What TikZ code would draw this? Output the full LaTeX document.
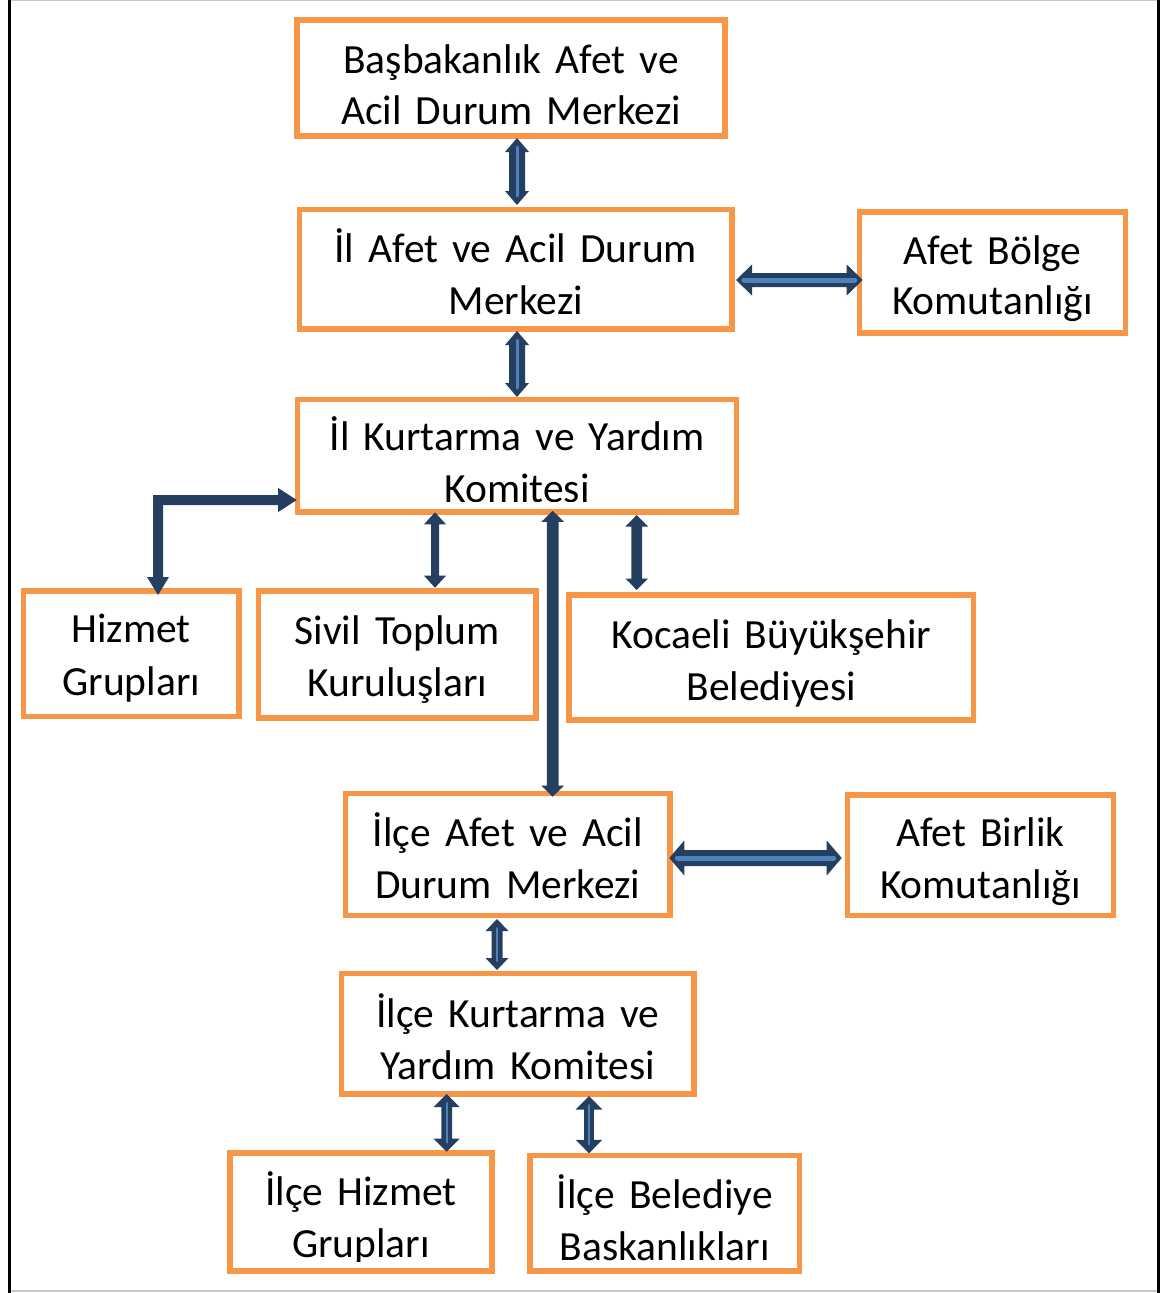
\documentclass[tikz,border=0pt]{standalone}
\usepackage{fontspec}
\setmainfont{Carlito}[WordSpace=1.5]
\usetikzlibrary{calc}

\definecolor{boxorange}{HTML}{F79646}
\definecolor{arrownavy}{HTML}{243F60}
\definecolor{arrowlight}{HTML}{4F81BD}
\definecolor{framegray}{HTML}{C8C8C8}

\tikzset{
  box/.style={draw=boxorange, line width=5.5pt, inner sep=0pt, outer sep=0pt},
  boxtext/.style={anchor=base, inner sep=0pt, outer sep=0pt, font=\fontsize{41.5}{50}\selectfont},
}

% two text lines of a box, cut off a little above its lower edge
\newcommand\boxlines[6]{%
  \begin{scope}
    \clip (#1.north west) rectangle ([yshift=10pt]#1.south east);
    \node[boxtext] (#1-a) at (#2,#3) {#5};
    \node[boxtext] (#1-b) at (#2,#4) {#6};
  \end{scope}}

% vertical double-headed block arrow: #1 upper tip, #2 lower tip,
% #3 shaft half width, #4 head half width, #5 head length, #6 inner stripe width
\newcommand\vbiarrow[6]{%
  \fill[arrownavy] let \p1=#1, \p2=#2 in
    (\x1,\y1) -- (\x1+#4,\y1-#5) -- (\x1+#3,\y1-#5) -- (\x2+#3,\y2+#5) -- (\x2+#4,\y2+#5)
    -- (\x2,\y2) -- (\x2-#4,\y2+#5) -- (\x2-#3,\y2+#5) -- (\x1-#3,\y1-#5) -- (\x1-#4,\y1-#5) -- cycle;
  \ifdim#6>0pt
    \draw[arrowlight, line width=#6, line cap=round] let \p1=#1, \p2=#2 in
      (\x1,\y1-9pt) -- (\x2,\y2+9pt);
  \fi}

% horizontal double-headed block arrow: #1 left tip, #2 right tip
\newcommand\hbiarrow[6]{%
  \fill[arrownavy] let \p1=#1, \p2=#2 in
    (\x1,\y1) -- (\x1+#5,\y1+#4) -- (\x1+#5,\y1+#3) -- (\x2-#5,\y2+#3) -- (\x2-#5,\y2+#4)
    -- (\x2,\y2) -- (\x2-#5,\y2-#4) -- (\x2-#5,\y2-#3) -- (\x1+#5,\y1-#3) -- (\x1+#5,\y1-#4) -- cycle;
  \ifdim#6>0pt
    \draw[arrowlight, line width=#6, line cap=round] let \p1=#1, \p2=#2 in
      (\x1+8pt,\y1) -- (\x2-8pt,\y2);
  \fi}

\begin{document}
\begin{tikzpicture}[x=1pt, y=-1pt]
\useasboundingbox (0,0) rectangle (1172,1293);

% page frame
\draw[framegray, line width=1.2pt] (9.5,0.7) -- (1158.5,0.7);
\draw[framegray, line width=1.5pt] (9.5,1291) -- (1158.5,1291);
\draw[black, line width=2.5pt] (9.5,0) -- (9.5,1293);
\draw[black, line width=2.5pt] (1158.5,0) -- (1158.5,1293);

% boxes
\node[box, minimum width=428pt,   minimum height=116pt]   (bas)      at (511,78)        {};
\node[box, minimum width=432.5pt, minimum height=119.5pt] (ilafet)   at (515.75,269.25) {};
\node[box, minimum width=266pt,   minimum height=121pt]   (bolge)    at (992.5,272.5)   {};
\node[box, minimum width=439pt,   minimum height=112.3pt] (ilkurt)   at (517,455.65)    {};
\node[box, minimum width=215.5pt, minimum height=125.5pt] (hizmet)   at (131.25,653.75) {};
\node[box, minimum width=277.5pt, minimum height=127pt]   (sivil)    at (397.25,654.5)  {};
\node[box, minimum width=404.5pt, minimum height=125pt]   (kocaeli)  at (771.25,657.5)  {};
\node[box, minimum width=324.5pt, minimum height=122pt]   (ilceafet) at (507.75,854.5)  {};
\node[box, minimum width=266pt,   minimum height=120.5pt] (birlik)   at (980.5,855.25)  {};
\node[box, minimum width=352.5pt, minimum height=120.5pt] (ilcekurt) at (517.75,1033.75){};
\node[box, minimum width=262pt,   minimum height=118pt]   (ilcehiz)  at (361,1212)      {};
\node[box, minimum width=269.5pt, minimum height=115.5pt] (ilcebel)  at (664.75,1213.25){};

% box texts
\boxlines{bas}{511}{73}{124}{Başbakanlık Afet ve}{Acil Durum Merkezi}
\boxlines{ilafet}{515.75}{262}{314}{İl Afet ve Acil Durum}{Merkezi}
\boxlines{bolge}{992.5}{264}{314}{Afet Bölge}{Komutanlığı}
\boxlines{ilkurt}{517}{450}{502}{İl Kurtarma ve Yardım}{Komitesi}
\boxlines{hizmet}{131.25}{642}{695}{Hizmet}{Grupları}
\boxlines{sivil}{397.25}{644}{696}{Sivil Toplum}{Kuruluşları}
\boxlines{kocaeli}{771.25}{648}{700}{Kocaeli Büyükşehir}{Belediyesi}
\boxlines{ilceafet}{507.75}{846}{898}{İlçe Afet ve Acil}{Durum Merkezi}
\boxlines{birlik}{980.5}{846}{898}{Afet Birlik}{Komutanlığı}
\boxlines{ilcekurt}{517.75}{1027}{1079}{İlçe Kurtarma ve}{Yardım Komitesi}
\boxlines{ilcehiz}{361}{1205}{1257}{İlçe Hizmet}{Grupları}
\boxlines{ilcebel}{664.75}{1208}{1260}{İlçe Belediye}{Baskanlıkları}

% connectors
\vbiarrow{([xshift=6pt,yshift=-2pt]bas.south)}{([xshift=1.25pt,yshift=4.5pt]ilafet.north)}{8pt}{12pt}{14pt}{3pt}
\vbiarrow{([xshift=1.25pt,yshift=-2pt]ilafet.south)}{([yshift=2.5pt]ilkurt.north)}{8pt}{12pt}{14pt}{3pt}
\hbiarrow{([xshift=4pt,yshift=-10.75pt]ilafet.east)}{([xshift=3.2pt,yshift=-7.5pt]bolge.west)}{7pt}{15.5pt}{16pt}{5pt}

% elbow connector between the committee and the service groups
\fill[arrownavy] let \p1=([xshift=26.75pt,yshift=-4pt]hizmet.north),
                     \p2=([xshift=-0.8pt,yshift=-44.35pt]ilkurt.west) in
  (\x1,\y1) -- (\x1+11pt,\y1+18pt) -- (\x1+5pt,\y1+18pt) -- (\x1+5pt,\y2-5pt)
  -- (\x2-18.5pt,\y2-5pt) -- (\x2-18.5pt,\y2-12pt) -- (\x2,\y2) -- (\x2-18.5pt,\y2+12pt)
  -- (\x2-18.5pt,\y2+5pt) -- (\x1-5pt,\y2+5pt) -- (\x1-5pt,\y1+18pt) -- (\x1-11pt,\y1+18pt) -- cycle;

\vbiarrow{([xshift=-82pt,yshift=-0.5pt]ilkurt.south)}{([xshift=37.75pt,yshift=3.3pt]sivil.north)}{4pt}{11pt}{12pt}{0pt}
\vbiarrow{([xshift=35.7pt,yshift=1pt]ilkurt.south)}{([xshift=44.95pt,yshift=-3.2pt]ilceafet.north)}{5.8pt}{11.3pt}{11pt}{0pt}
\vbiarrow{([xshift=119.7pt,yshift=-3.2pt]ilkurt.south)}{([xshift=-134.55pt,yshift=5pt]kocaeli.north)}{5.3pt}{11.3pt}{11.5pt}{0pt}
\hbiarrow{([xshift=-0.7pt,yshift=-3.5pt]ilceafet.east)}{([xshift=-5.8pt,yshift=-2.75pt]birlik.west)}{8pt}{17.5pt}{15pt}{5pt}
\vbiarrow{([xshift=-10.75pt,yshift=-3.5pt]ilceafet.south)}{([xshift=-20.75pt,yshift=3.5pt]ilcekurt.north)}{5.5pt}{11.5pt}{12pt}{2pt}
\vbiarrow{([xshift=-71.05pt]ilcekurt.south)}{([xshift=85.7pt,yshift=1.3pt]ilcehiz.north)}{5.3pt}{13pt}{13pt}{2pt}
\vbiarrow{([xshift=71.25pt,yshift=-2pt]ilcekurt.south)}{([xshift=-75.75pt,yshift=2.2pt]ilcebel.north)}{4.8pt}{13.3pt}{13.5pt}{2pt}
\end{tikzpicture}
\end{document}
